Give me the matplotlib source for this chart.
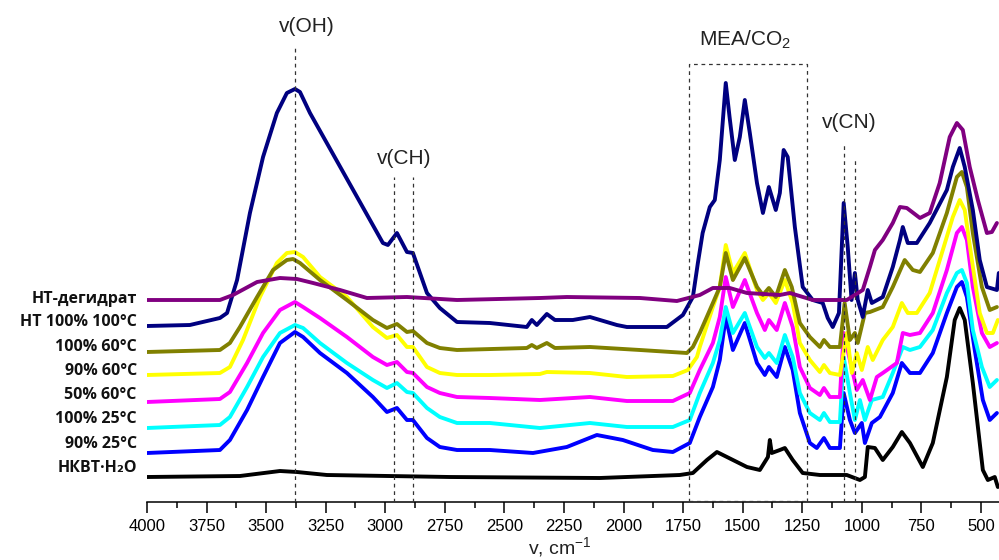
import matplotlib
matplotlib.use("Agg")
import matplotlib.pyplot as plt
from matplotlib.ticker import MultipleLocator

plt.rcParams['mathtext.fontset'] = 'custom'
plt.rcParams['mathtext.rm'] = 'Liberation Sans'
plt.rcParams['mathtext.it'] = 'Liberation Sans'

# ---------------- data (wavenumber, cm-1 ; intensity, a.u.) ----------------
labels = ["НТ-дегидрат", "НТ 100% 100°C", "100% 60°C", "90% 60°C",
          "50% 60°C", "100% 25°C", "90% 25°C", "НКВТ·H₂O"]
colors = ["#800080", "#000080", "#808000", "#FFFF00",
          "#FF00FF", "#00FFFF", "#0000FF", "#000000"]

wn_dehyd = [4000, 3694, 3639, 3538, 3442, 3371, 3303, 3190, 3077, 2909, 2699, 2351, 2238,
            1931, 1776, 1680, 1625, 1554, 1482, 1344, 1302, 1206, 1063, 996, 966, 945, 912,
            870, 840, 811, 756, 715, 673, 631, 601, 576, 547, 513, 475, 454, 433]
ab_dehyd = [202, 202, 207, 220, 224, 223, 219, 212, 204, 205, 202, 204, 205,
            204, 201, 207, 214, 214, 209, 207, 209, 202, 202, 212, 235, 252, 262,
            279, 295, 294, 284, 289, 319, 365, 379, 372, 335, 302, 269, 270, 279]

wn_nt100 = [4000, 3820, 3694, 3664, 3622, 3568, 3513, 3455, 3413, 3379, 3358, 3316, 3010,
            2989, 2951, 2909, 2884, 2825, 2771, 2699, 2561, 2406, 2385, 2364, 2322, 2288,
            2213, 2141, 2028, 1986, 1818, 1751, 1709, 1688, 1668, 1638, 1617, 1596, 1571,
            1555, 1533, 1512, 1491, 1470, 1440, 1415, 1390, 1361, 1344, 1328, 1311, 1281,
            1248, 1206, 1164, 1143, 1122, 1096, 1076, 1059, 1043, 1029, 1017, 996, 975,
            958, 912, 870, 840, 828, 807, 769, 715, 643, 618, 589, 568, 534, 505, 475,
            433, 425]
ab_nt100 = [176, 177, 184, 189, 222, 289, 345, 389, 409, 413, 410, 389, 259,
            257, 269, 250, 249, 209, 194, 180, 179, 175, 182, 177, 188, 182,
            182, 185, 177, 175, 175, 187, 205, 239, 269, 295, 302, 342, 419,
            385, 342, 365, 402, 369, 319, 289, 315, 292, 309, 352, 345, 275,
            215, 202, 199, 184, 175, 189, 299, 255, 202, 229, 202, 185, 212,
            199, 205, 235, 262, 275, 259, 259, 279, 312, 335, 354, 335, 292, 242, 215,
            212, 229]

wn_p100_60 = [4000, 3694, 3652, 3610, 3538, 3471, 3413, 3387, 3358, 3274, 3161, 3052, 2993,
              2951, 2909, 2884, 2825, 2771, 2699, 2406, 2385, 2364, 2322, 2288, 2141, 1931,
              1734, 1709, 1680, 1625, 1596, 1571, 1541, 1491, 1440, 1415, 1390, 1361, 1323,
              1294, 1260, 1218, 1176, 1159, 1134, 1092, 1072, 1050, 1029, 1017, 987, 966,
              912, 870, 820, 786, 756, 702, 643, 601, 580, 559, 534, 496, 463, 433]
ab_p100_60 = [150, 152, 159, 175, 205, 232, 242, 243, 239, 222, 202, 182, 174,
              178, 170, 171, 159, 154, 152, 154, 157, 154, 159, 154, 155, 152,
              149, 155, 169, 199, 215, 249, 222, 244, 215, 207, 214, 205, 232,
              215, 179, 165, 155, 162, 155, 155, 199, 162, 169, 159, 189, 190,
              195, 215, 242, 232, 230, 249, 289, 325, 330, 315, 269, 215, 192, 195]

wn_p90_60 = [4000, 3694, 3652, 3597, 3526, 3455, 3413, 3379, 3345, 3274, 3161, 3052, 2993,
             2951, 2909, 2884, 2825, 2771, 2699, 2561, 2351, 2322, 2141, 1986, 1793, 1730,
             1692, 1680, 1625, 1596, 1571, 1541, 1491, 1440, 1415, 1390, 1361, 1323, 1290,
             1260, 1218, 1176, 1159, 1134, 1092, 1063, 1042, 1021, 1000, 975, 954, 912,
             870, 832, 807, 769, 715, 660, 618, 589, 568, 538, 505, 475, 450, 429]
ab_p90_60 = [127, 129, 135, 162, 205, 239, 249, 250, 245, 225, 205, 175, 164,
             167, 155, 155, 135, 129, 127, 127, 128, 130, 129, 125, 126, 132,
             145, 155, 195, 215, 257, 229, 249, 212, 202, 209, 199, 222, 199,
             159, 142, 130, 137, 129, 127, 169, 129, 149, 132, 155, 142, 162,
             175, 199, 189, 189, 209, 252, 285, 302, 292, 242, 189, 169, 169, 182]

wn_p50_60 = [4000, 3694, 3652, 3580, 3513, 3442, 3379, 3345, 3274, 3161, 3052, 2993, 2951,
             2909, 2884, 2825, 2771, 2699, 2561, 2351, 2141, 1986, 1793, 1722, 1680, 1625,
             1596, 1571, 1541, 1491, 1440, 1407, 1390, 1357, 1323, 1290, 1260, 1218, 1176,
             1159, 1134, 1092, 1076, 1050, 1021, 996, 966, 937, 912, 853, 828, 798, 756,
             702, 643, 601, 580, 559, 534, 496, 463, 433]
ab_p50_60 = [100, 103, 110, 139, 169, 192, 200, 195, 184, 165, 145, 137, 140,
             130, 129, 115, 109, 105, 104, 102, 105, 101, 101, 109, 132, 159,
             185, 225, 195, 222, 189, 172, 182, 172, 199, 175, 135, 114, 107,
             114, 105, 105, 169, 142, 112, 122, 102, 125, 129, 139, 169, 167, 169,
             189, 232, 269, 275, 262, 215, 169, 155, 159]

wn_p100_25 = [4000, 3694, 3652, 3580, 3513, 3442, 3379, 3345, 3274, 3161, 3052, 2993, 2951,
              2909, 2884, 2825, 2771, 2699, 2561, 2351, 2141, 1986, 1793, 1722, 1680, 1625,
              1596, 1571, 1541, 1491, 1440, 1407, 1390, 1357, 1323, 1290, 1260, 1218, 1176,
              1159, 1134, 1092, 1076, 1050, 1029, 1008, 987, 958, 912, 870, 828, 798, 756,
              702, 643, 601, 580, 559, 534, 496, 463, 433]
ab_p100_25 = [74, 77, 85, 115, 145, 169, 177, 174, 159, 139, 122, 114, 119,
              110, 109, 94, 85, 79, 79, 74, 79, 75, 75, 82, 109, 139,
              162, 195, 169, 189, 155, 144, 149, 139, 167, 145, 109, 89, 82,
              89, 80, 80, 145, 109, 82, 102, 82, 102, 105, 129, 155, 152, 155,
              172, 209, 229, 232, 219, 172, 135, 115, 122]

wn_p90_25 = [4000, 3694, 3652, 3580, 3513, 3442, 3379, 3345, 3274, 3161, 3052, 2993, 2951,
             2909, 2884, 2825, 2771, 2699, 2561, 2380, 2238, 2112, 2003, 1877, 1793, 1722,
             1680, 1625, 1596, 1571, 1541, 1491, 1440, 1407, 1390, 1357, 1323, 1290, 1260,
             1218, 1189, 1159, 1134, 1092, 1076, 1050, 1029, 1000, 987, 958, 924, 870, 832,
             798, 756, 702, 643, 601, 580, 559, 526, 492, 463, 433]
ab_p90_25 = [49, 52, 62, 92, 125, 159, 170, 165, 149, 129, 105, 90, 94,
             82, 82, 64, 55, 52, 52, 49, 55, 67, 62, 52, 50, 59,
             85, 115, 142, 185, 152, 179, 139, 127, 135, 125, 155, 132, 89,
             59, 54, 64, 54, 54, 109, 82, 69, 79, 59, 79, 85, 109, 139,
             129, 129, 149, 189, 215, 220, 205, 152, 102, 82, 89]

wn_nkvt = [4000, 3610, 3442, 3371, 3245, 2729, 2100, 1764, 1709, 1650, 1608, 1566, 1482,
           1428, 1394, 1386, 1378, 1344, 1323, 1290, 1248, 1176, 1063, 1008, 987, 975,
           945, 912, 870, 832, 798, 744, 702, 643, 610, 589, 568, 534, 492, 471, 442, 429]
ab_nkvt = [25, 26, 31, 30, 27, 25, 24, 27, 29, 42, 50, 45, 35,
           32, 45, 62, 49, 52, 54, 42, 29, 27, 27, 22, 25, 55,
           54, 42, 55, 70, 59, 35, 59, 125, 182, 194, 182, 119, 32, 22, 25, 15]

series_wn = [wn_dehyd, wn_nt100, wn_p100_60, wn_p90_60, wn_p50_60, wn_p100_25, wn_p90_25, wn_nkvt]
series_ab = [ab_dehyd, ab_nt100, ab_p100_60, ab_p90_60, ab_p50_60, ab_p100_25, ab_p90_25, ab_nkvt]

xticks = list(range(4000, 499, -250))

# ---------------- figure ----------------
W, H = 999, 560
fig = plt.figure(figsize=(W / 100, H / 100), dpi=100)
ax = fig.add_axes([147 / W, 58 / H, 853 / W, 502 / H])
ax.set_xlim(4000, 420)
ax.set_ylim(0, 502)

zorders = [9, 8, 7, 6, 5, 4, 3, 2]
for wn, ab, c, z in zip(series_wn, series_ab, colors, zorders):
    ax.plot(wn, ab, color=c, lw=2.8, solid_joinstyle='round', solid_capstyle='round', zorder=z)

# label texts to the left of each trace
label_y = [203, 180, 155, 131, 107, 83, 58, 34]
for lab, yy in zip(labels, label_y):
    ax.text(-0.012, yy, lab, transform=ax.get_yaxis_transform(), ha='right', va='center',
            fontsize=11.5, fontweight='bold', family=['Open Sans', 'DejaVu Sans'],
            color='#111111', clip_on=False)

# dashed guide lines
dkw = dict(color='#333333', lw=0.9, ls=(0, (3, 3)), zorder=20)
ax.plot([3380, 3380], [0, 455], **dkw)
ax.plot([2965, 2965], [0, 325], **dkw)
ax.plot([2885, 2885], [0, 325], **dkw)
ax.plot([1075, 1075], [0, 359], **dkw)
ax.plot([1029, 1029], [0, 342], **dkw)
ax.plot([1725, 1725, 1230, 1230], [0, 438, 438, 0], **dkw)
ax.plot([1725, 1230], [1, 1], **dkw)

tkw = dict(fontsize=15, family='Liberation Sans', color='#222222', ha='center', va='center')
ax.text(3329, 475, "v(OH)", **tkw)
ax.text(2922, 343, "v(CH)", **tkw)
ax.text(1491, 462, "MEA/CO$_2$", **tkw)
ax.text(1054, 379, "v(CN)", **tkw)

# axes styling
for s in ['left', 'right', 'top']:
    ax.spines[s].set_visible(False)
ax.spines['bottom'].set_linewidth(1.1)
ax.set_yticks([])
ax.set_xticks(xticks)
ax.xaxis.set_minor_locator(MultipleLocator(125))
ax.tick_params(axis='x', which='major', direction='out', length=8, width=1.1, pad=4,
               labelsize=12)
ax.tick_params(axis='x', which='minor', direction='out', length=4.5, width=1.1)
for t in ax.get_xticklabels():
    t.set_family('Liberation Sans')

fig.text(560 / W, 1 / H, "v, cm$^{-1}$", ha='center', va='bottom',
         fontsize=14, family='Liberation Sans', color='#222222')

fig.savefig("out.png", dpi=100)
